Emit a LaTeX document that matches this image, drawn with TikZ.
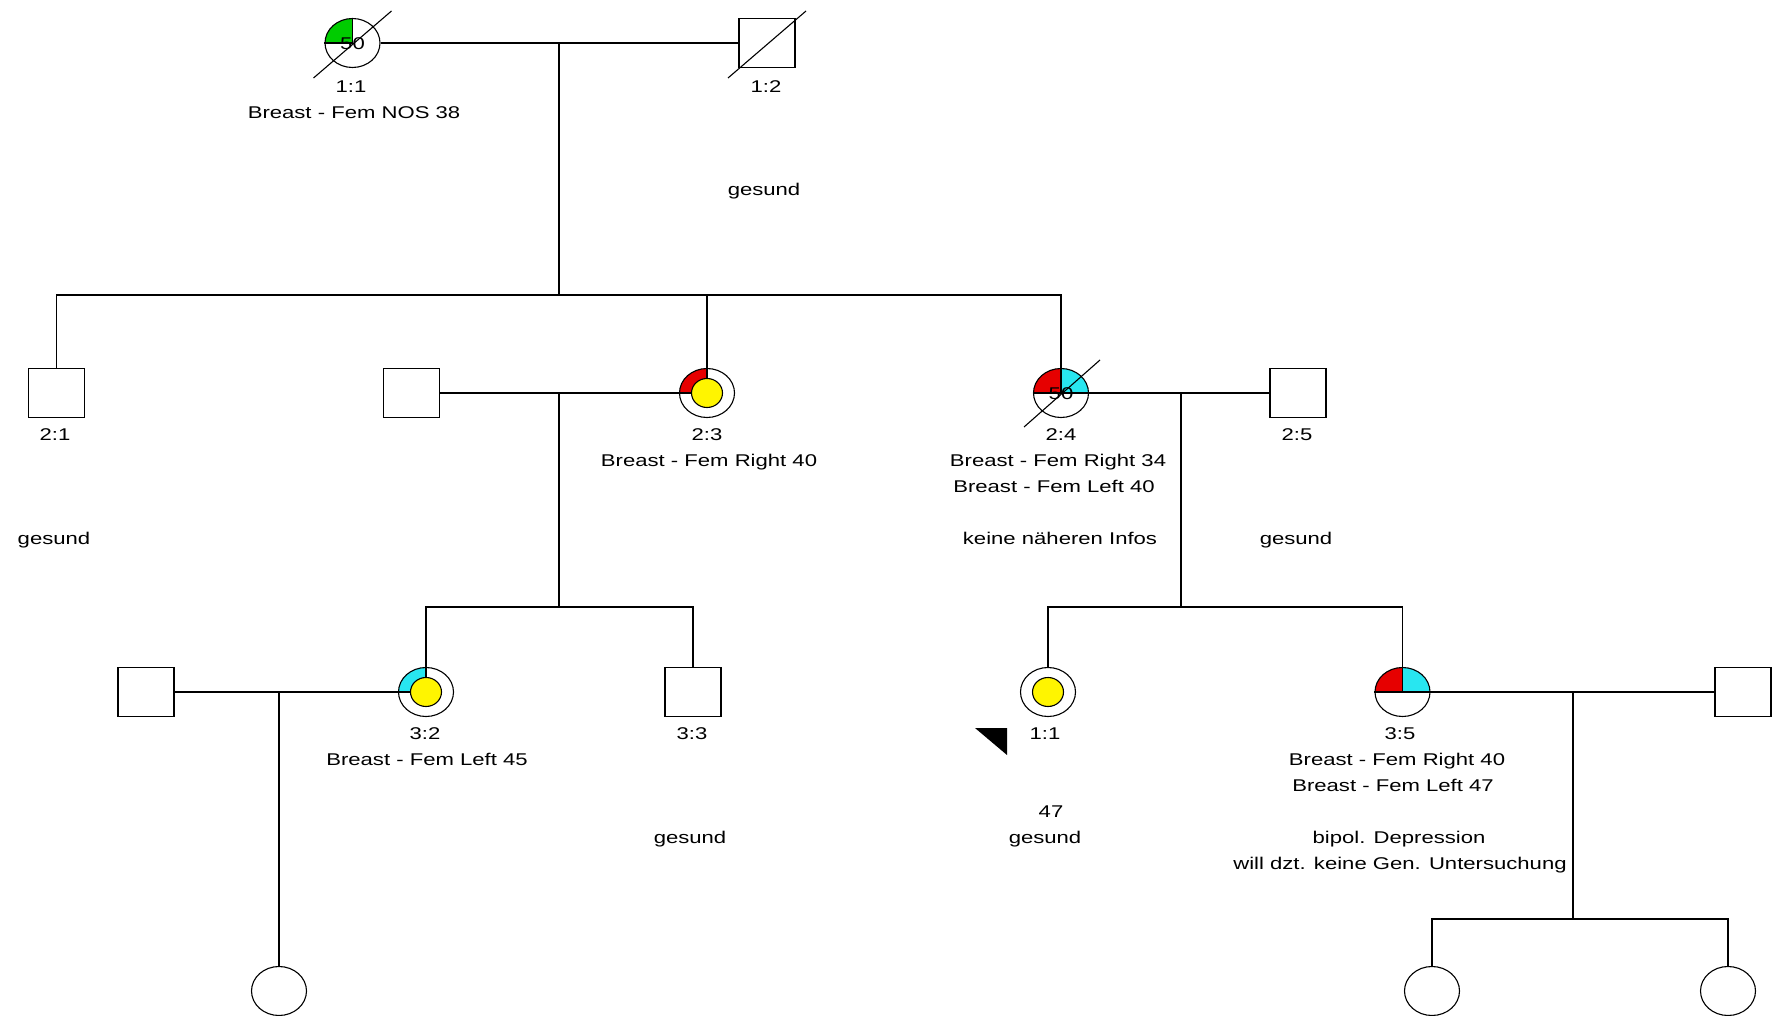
\documentclass[tikz,border=0pt]{standalone}
\usepackage{fontspec}
\setmainfont{Liberation Sans}[FakeStretch=1.3]
\usetikzlibrary{shapes.geometric,backgrounds}
\definecolor{pgreen}{RGB}{0,204,0}
\definecolor{pred}{RGB}{230,0,0}
\definecolor{pcyan}{RGB}{40,230,240}
\definecolor{pyellow}{RGB}{255,245,0}
\newcommand\pedTL[2]{\fill[#2] (#1.center) -- ++(-27.5pt,0pt) arc[start angle=180,end angle=90,x radius=27.5pt,y radius=24.5pt] -- cycle;}
\newcommand\pedTR[2]{\fill[#2] (#1.center) -- ++(0pt,24.5pt) arc[start angle=90,end angle=0,x radius=27.5pt,y radius=24.5pt] -- cycle;}
\begin{document}
\begin{tikzpicture}[x=1pt,y=1pt,
 line/.style={line width=1.6pt},
 male/.style={draw, line width=1.6pt, rectangle, minimum width=56pt, minimum height=49pt, inner sep=0pt},
 female/.style={draw, line width=1.1pt, ellipse, minimum width=55pt, minimum height=49pt, inner sep=0pt},
 inner/.style={draw, line width=1.1pt, ellipse, fill=pyellow, minimum width=31pt, minimum height=29pt, inner sep=0pt},
 lbl/.style={font=\fontsize{17}{20}\selectfont, inner sep=0pt, text height=12.2pt, text depth=0pt},
 qedge/.style={line width=1.1pt},
 slash/.style={line width=1.1pt}]
\begin{pgfonlayer}{background}
\fill[white] (0,0) rectangle (1772,-1016);
\end{pgfonlayer}
\useasboundingbox (0,0) rectangle (1772,-1016);

% individuals
\node[female] (I1) at (352.5,-43) {};
\node[male] (I2) at (767,-43) {};
\node[male] (II1) at (56.5,-393) {};
\node[male] (S23) at (411.5,-393) {};
\node[female] (II3) at (707,-393) {};
\node[female] (II4) at (1061,-393) {};
\node[male] (II5) at (1298,-393) {};
\node[male] (S32) at (146,-692) {};
\node[female] (III2) at (426,-692) {};
\node[male] (III3) at (693,-692) {};
\node[female] (P) at (1048,-692) {};
\node[female] (III5) at (1402.5,-692) {};
\node[male] (S35) at (1743,-692) {};
\node[female] (IV1) at (279,-991) {};
\node[female] (IV2) at (1432,-991) {};
\node[female] (IV3) at (1728,-991) {};

% quadrant fills
\begin{pgfonlayer}{background}
\pedTL{I1}{pgreen}
\pedTL{II3}{pred}
\pedTL{II4}{pred}
\pedTR{II4}{pcyan}
\pedTL{III2}{pcyan}
\pedTL{III5}{pred}
\pedTR{III5}{pcyan}
\end{pgfonlayer}

% junction coordinates
\coordinate (m1) at (559,-43); \coordinate (b1) at (559,-295);
\coordinate (m2) at (559,-393); \coordinate (b2) at (559,-607);
\coordinate (m3) at (1181,-393); \coordinate (b3) at (1181,-607);
\coordinate (m4) at (279,-692);
\coordinate (m5) at (1573,-692); \coordinate (b5) at (1573,-919);

% connectors
\draw[line] (I1.east) -- (I2.west);
\draw[line] (m1) -- (b1);
\draw[line] (II1.north) |- (b1) -| (II4.north);
\draw[line] (b1) -| (II3.north);
\draw[line] (S23.east) -- (II3.west);
\draw[line] (m2) -- (b2);
\draw[line] (III2.north) |- (b2) -| (III3.north);
\draw[line] (II4.east) -- (II5.west);
\draw[line] (m3) -- (b3);
\draw[line] (P.north) |- (b3) -| (III5.north);
\draw[line] (S32.east) -- (III2.west);
\draw[line] (m4) -- (IV1.north);
\draw[line] (III5.east) -- (S35.west);
\draw[line] (m5) -- (b5);
\draw[line] (IV2.north) |- (b5) -| (IV3.north);

% quadrant edges
\draw[qedge] (I1.west) -- (I1.center) -- (I1.north);
\draw[qedge] (II3.west) -- (II3.center) -- (II3.north);
\draw[qedge] (II4.west) -- (II4.east) (II4.north) -- (II4.center);
\draw[qedge] (III2.west) -- (III2.center) -- (III2.north);
\draw[qedge] (III5.west) -- (III5.east) (III5.north) -- (III5.center);

% inner yellow circles
\node[inner] (II3i) at (II3.center) {};
\node[inner] (III2i) at (III2.center) {};
\node[inner] (Pi) at (P.center) {};

% numbers inside
\node[lbl] (I1n) at (I1.center) {50};
\node[lbl] (II4n) at (II4.center) {50};

% deceased slashes
\draw[slash] ([shift={(-39pt,-35pt)}]I1.center) -- ([shift={(39pt,32pt)}]I1.center);
\draw[slash] ([shift={(-39pt,-35pt)}]I2.center) -- ([shift={(39pt,32pt)}]I2.center);
\draw[slash] ([shift={(-37pt,-34pt)}]II4.center) -- ([shift={(39pt,33pt)}]II4.center);

% proband marker
\fill (975,-728) -- (1007,-728) -- (1007,-755) -- cycle;

% labels generation I
\node[lbl] (t1) at (351,-86) {1:1};
\node[lbl] (t2) at (354,-112) {Breast - Fem NOS 38};
\node[lbl] (t3) at (766,-86) {1:2};
\node[lbl] (t4) at (764,-189) {gesund};
% generation II
\node[lbl] (t5) at (55,-434) {2:1};
\node[lbl] (t6) at (54,-538) {gesund};
\node[lbl] (t7) at (707,-434) {2:3};
\node[lbl] (t8) at (709,-460) {Breast - Fem Right 40};
\node[lbl] (t9) at (1061,-434) {2:4};
\node[lbl] (t10) at (1058,-460) {Breast - Fem Right 34};
\node[lbl] (t11) at (1054,-486) {Breast - Fem Left 40};
\node[lbl] (t12) at (1060,-538) {keine näheren Infos};
\node[lbl] (t13) at (1297,-434) {2:5};
\node[lbl] (t14) at (1296,-538) {gesund};
% generation III
\node[lbl] (t15) at (425,-733) {3:2};
\node[lbl] (t16) at (427,-759) {Breast - Fem Left 45};
\node[lbl] (t17) at (692,-733) {3:3};
\node[lbl] (t18) at (690,-837) {gesund};
\node[lbl] (t19) at (1045,-733) {1:1};
\node[lbl] (t20) at (1051,-811) {47};
\node[lbl] (t21) at (1045,-837) {gesund};
\node[lbl] (t22) at (1400,-733) {3:5};
\node[lbl] (t23) at (1397,-759) {Breast - Fem Right 40};
\node[lbl] (t24) at (1393,-785) {Breast - Fem Left 47};
\node[lbl] (t25) at (1399,-837) {bipol. Depression};
\node[lbl] (t26) at (1400,-863) {will dzt. keine Gen. Untersuchung};
\end{tikzpicture}
\end{document}
